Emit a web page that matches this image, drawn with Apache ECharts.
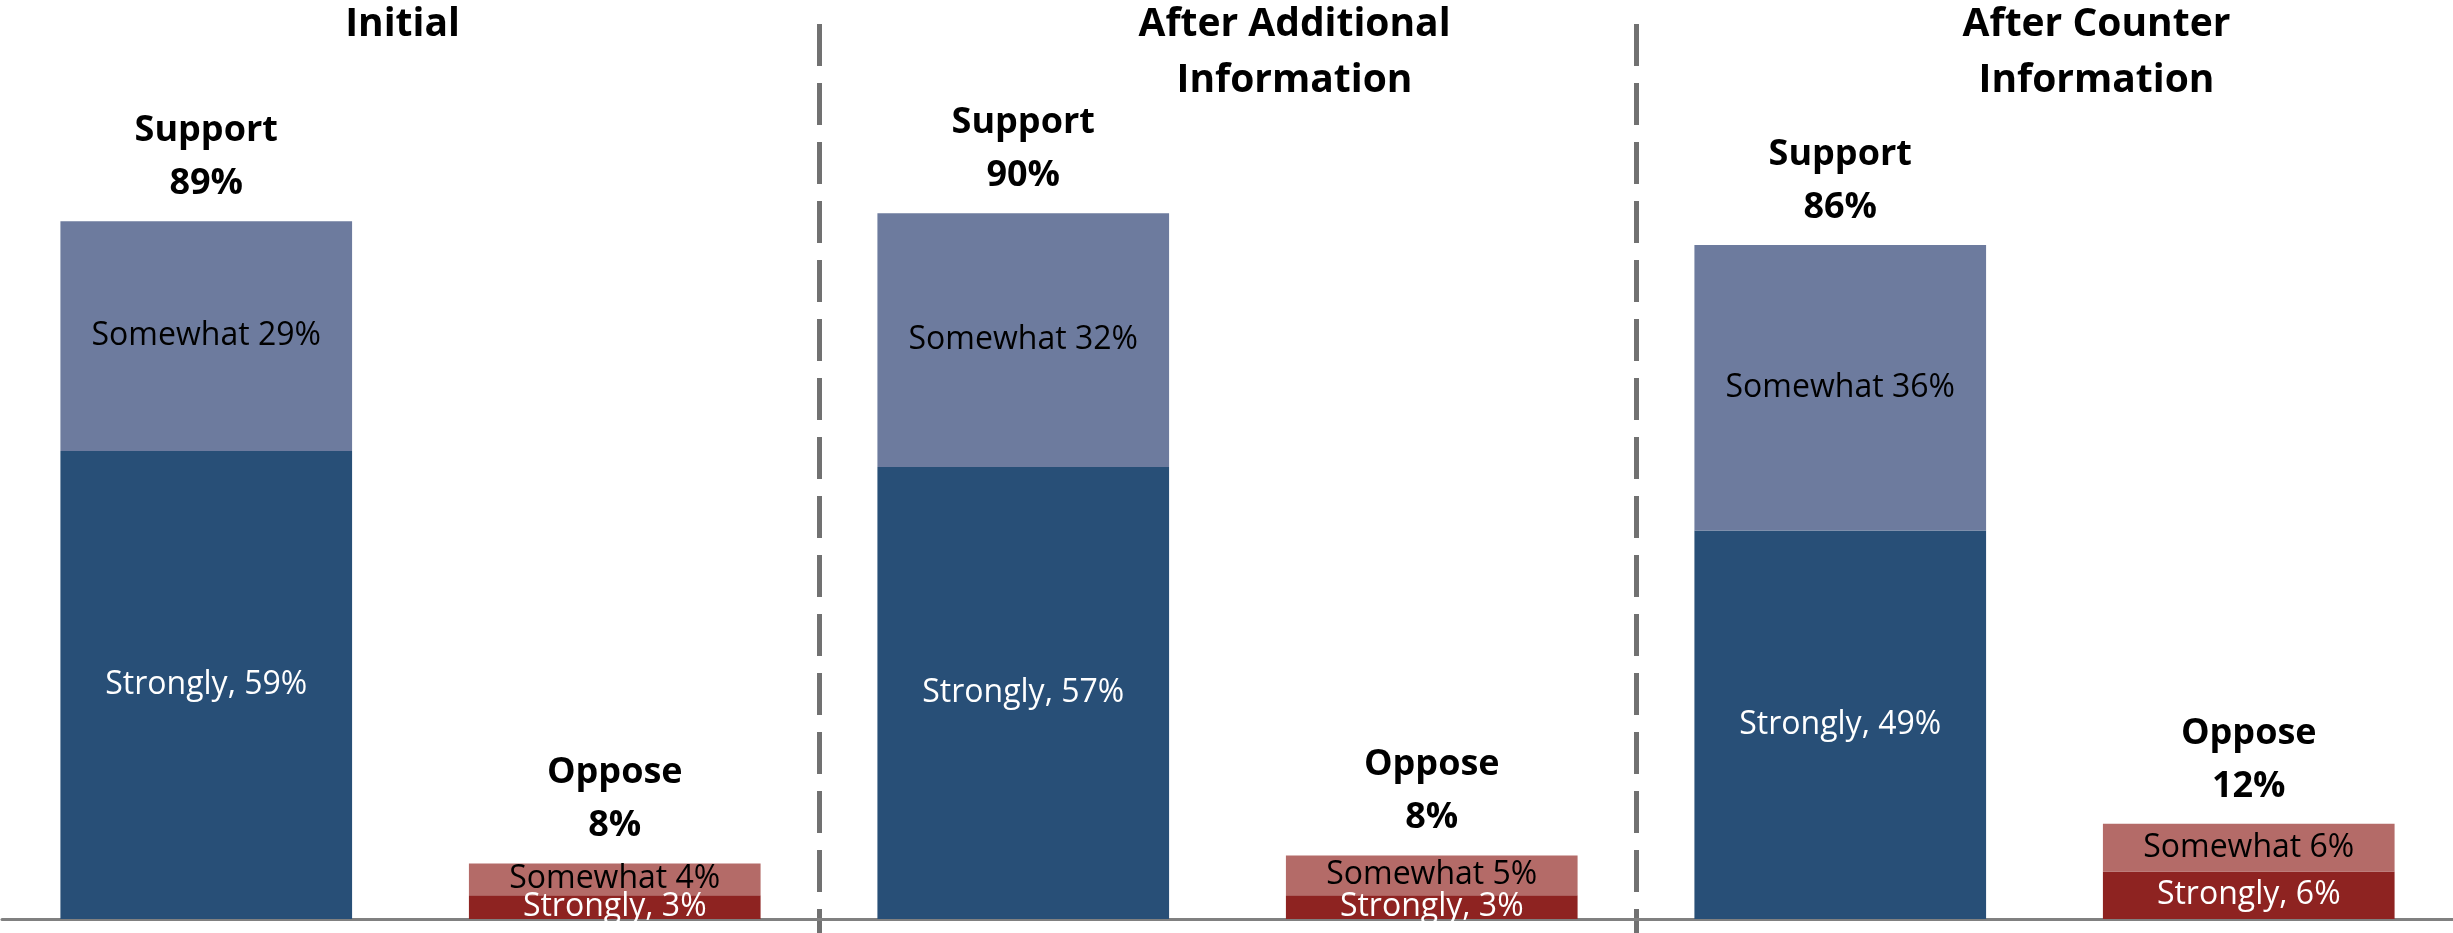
<!DOCTYPE html>
<html>
<head>
<meta charset="utf-8">
<script src="https://cdn.jsdelivr.net/npm/echarts@6/dist/echarts.min.js"></script>
<style>
  html, body { margin: 0; padding: 0; background: #fff; }
  #chart { width: 2453px; height: 933px; }
</style>
</head>
<body>
<div id="chart"></div>
<script>
const groups = ['Initial', 'After Additional\nInformation', 'After Counter\nInformation']
const sides = ['Support', 'Oppose']
const supportStrongly = [59, 57, 49]
const supportSomewhat = [29, 32, 36]
const supportTotal = [89, 90, 86]
const opposeStrongly = [3, 3, 6]
const opposeSomewhat = [4, 5, 6]
const opposeTotal = [8, 8, 12]

// one category per bar: support, oppose, support, oppose ...
const interleave = (a, b) => a.flatMap((v, i) => [v, b[i]])
const categories = groups.flatMap((g) => sides.map((s) => g + ' ' + s))
const strongly = interleave(supportStrongly, opposeStrongly)
const somewhat = interleave(supportSomewhat, opposeSomewhat)
const totals = interleave(supportTotal, opposeTotal)

const FONT = '"Open Sans", sans-serif'
const GREY = '#808080'
// titles in the original are not quite centred over their group (px)
const titleShift = [-8, 67, 52]

const titleStyle = {
  verticalAlign: 'top',
  color: '#000',
  fontFamily: FONT,
  fontWeight: 'bold',
  fontSize: 39,
  lineHeight: 56,
}

const chart = echarts.init(document.getElementById('chart'))

const option = {
  animation: false,
  backgroundColor: '#fff',
  grid: { left: 2, right: 0, top: 24, bottom: 0, outerBoundsMode: 'none' },
  xAxis: [
    {
      type: 'category',
      data: categories,
      position: 'bottom',
      axisLine: { onZero: true, lineStyle: { color: GREY, width: 3 } },
      axisTick: { interval: 0, length: 10, lineStyle: { color: GREY, width: 3 } },
      axisLabel: { show: false },
    },
    {
      // group titles + dashed separators
      type: 'category',
      data: groups.map((g, i) => ({
        value: g,
        textStyle: {
          ...titleStyle,
          padding: [0, Math.max(0, -titleShift[i] * 2), 0, Math.max(0, titleShift[i] * 2)],
        },
      })),
      position: 'top',
      axisLine: { show: false },
      axisTick: { show: false },
      axisLabel: { interval: 0, margin: 27, ...titleStyle },
      splitLine: {
        show: true,
        showMinLine: false,
        showMaxLine: false,
        lineStyle: { color: '#717171', width: 5, type: [42, 17] },
      },
    },
  ],
  yAxis: { type: 'value', min: -1.77, max: 112.86, show: false },
  series: [
    {
      name: 'Strongly',
      type: 'bar',
      stack: 'total',
      barWidth: '71.4%',
      data: strongly,
      itemStyle: { color: (p) => (p.dataIndex % 2 ? '#8E2321' : '#284F77') },
      label: {
        show: true,
        position: 'inside',
        color: '#fff',
        fontFamily: FONT,
        fontSize: 32,
        formatter: (p) => 'Strongly, ' + p.value + '%',
      },
    },
    {
      name: 'Somewhat',
      type: 'bar',
      stack: 'total',
      data: somewhat,
      itemStyle: { color: (p) => (p.dataIndex % 2 ? '#B46B68' : '#6D7B9E') },
      label: {
        show: true,
        position: 'inside',
        color: '#000',
        fontFamily: FONT,
        fontSize: 32,
        formatter: (p) => 'Somewhat ' + p.value + '%',
      },
    },
    {
      // zero-height cap on each stack, only carries the total label
      name: 'Total',
      type: 'bar',
      stack: 'total',
      data: categories.map(() => 0),
      itemStyle: { color: 'transparent' },
      label: {
        show: true,
        position: 'top',
        distance: 11,
        color: '#000',
        fontFamily: FONT,
        fontWeight: 'bold',
        fontSize: 36,
        lineHeight: 53,
        formatter: (p) => sides[p.dataIndex % 2] + '\n' + totals[p.dataIndex] + '%',
      },
    },
  ],
}

chart.setOption(option)
</script>
</body>
</html>
